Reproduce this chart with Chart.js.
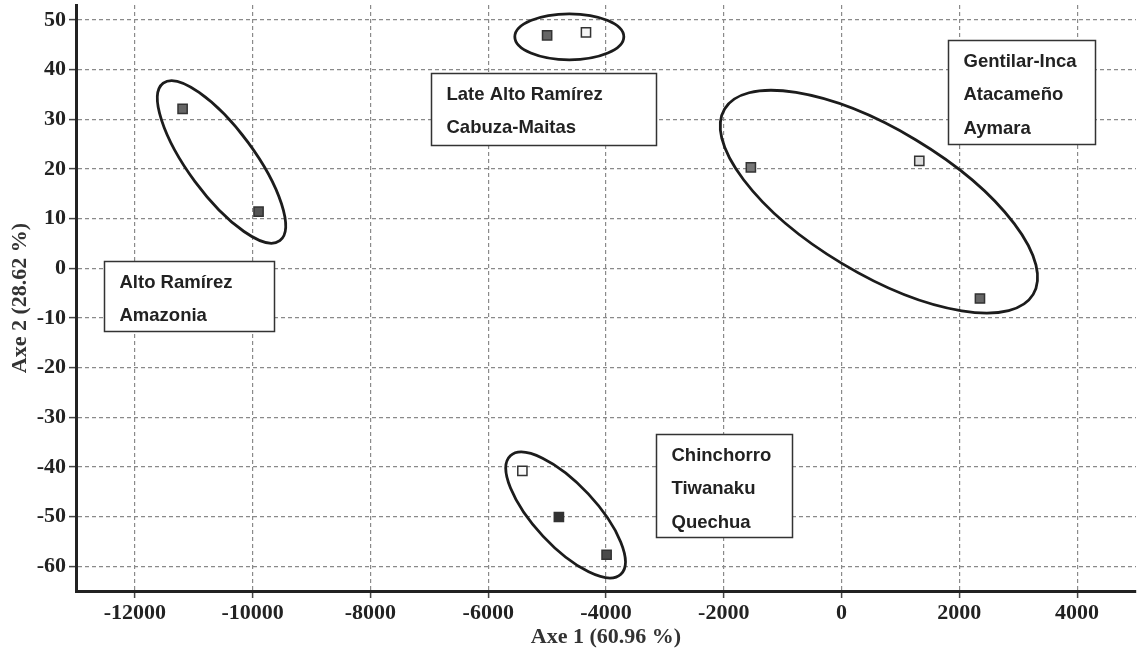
<!DOCTYPE html>
<html><head><meta charset="utf-8">
<script src="https://cdn.jsdelivr.net/npm/chart.js@4.4.0/dist/chart.umd.min.js"></script>
<style>html,body{margin:0;padding:0;background:#fff}#wrap{width:1137px;height:655px;position:relative}</style>
</head><body><div id="wrap"><canvas id="c" width="1137" height="655"></canvas></div>
<script>
// ---- data ----
const axis1 = [-11190, -9900, -5000, -4340, -1540, 1320, 2350, -5420, -4800, -3990];
const axis2 = [32.1, 11.4, 46.9, 47.5, 20.3, 21.6, -6.1, -40.8, -50.1, -57.7];
const xTickValues = [-12000, -10000, -8000, -6000, -4000, -2000, 0, 2000, 4000];
const yTickValues = [50, 40, 30, 20, 10, 0, -10, -20, -30, -40, -50, -60];
const xTitle = 'Axe 1 (60.96 %)';
const yTitle = 'Axe 2 (28.62 %)';
const groupA = ['Alto Ramírez', 'Amazonia'];
const groupB = ['Late Alto Ramírez', 'Cabuza-Maitas'];
const groupC = ['Gentilar-Inca', 'Atacameño', 'Aymara'];
const groupD = ['Chinchorro', 'Tiwanaku', 'Quechua'];

// ---- styles / annotation layout ----
const pointFills = ['#666', '#555', '#666', '#f6f6f6', '#777', '#ddd', '#666', '#fafafa', '#333', '#4a4a4a'];
const ellipseSpecs = [
  {cx: -10529, cy: 21.4, rx: 98, ry: 33, rot: 53.5},
  {cx: -4623, cy: 46.6, rx: 54.5, ry: 23, rot: 0},
  {cx: 634, cy: 13.4, rx: 180, ry: 72, rot: 31},
  {cx: -4686, cy: -49.7, rx: 81, ry: 31, rot: 47}
];
const boxSpecs = [
  {lines: groupA, x1: -12522, y1: 1.5, x2: -9637, y2: -12.6},
  {lines: groupB, x1: -6969, y1: 39.3, x2: -3144, y2: 24.9},
  {lines: groupC, x1: 1812, y1: 46.0, x2: 4305, y2: 25.0},
  {lines: groupD, x1: -3156, y1: -33.3, x2: -850, y2: -54.2}
];

const points = axis1.map((x, i) => ({x: x, y: axis2[i]}));
const serif = {family: "'Liberation Serif', 'Times New Roman', serif", size: 22, weight: 'bold'};

const annotations = {
  id: 'annotations',
  beforeDatasetsDraw(chart) {
    const ctx = chart.ctx, xs = chart.scales.x, ys = chart.scales.y;
    ctx.save();
    ctx.strokeStyle = '#1c1c1c';
    ctx.lineWidth = 2.8;
    ellipseSpecs.forEach(e => {
      ctx.beginPath();
      ctx.ellipse(xs.getPixelForValue(e.cx), ys.getPixelForValue(e.cy), e.rx, e.ry, e.rot * Math.PI / 180, 0, Math.PI * 2);
      ctx.stroke();
    });
    ctx.restore();
  },
  afterDatasetsDraw(chart) {
    const ctx = chart.ctx, xs = chart.scales.x, ys = chart.scales.y;
    ctx.save();
    boxSpecs.forEach(b => {
      const px1 = Math.round(xs.getPixelForValue(b.x1)) + 0.5, px2 = Math.round(xs.getPixelForValue(b.x2)) + 0.5;
      const py1 = Math.round(ys.getPixelForValue(b.y1)) + 0.5, py2 = Math.round(ys.getPixelForValue(b.y2)) + 0.5;
      ctx.fillStyle = '#fff';
      ctx.fillRect(px1, py1, px2 - px1, py2 - py1);
      ctx.strokeStyle = '#333';
      ctx.lineWidth = 1.5;
      ctx.strokeRect(px1, py1, px2 - px1, py2 - py1);
      ctx.fillStyle = '#222';
      ctx.font = "bold 18.5px 'Liberation Sans', Arial, sans-serif";
      ctx.textBaseline = 'middle';
      ctx.textAlign = 'left';
      b.lines.forEach((t, i) => ctx.fillText(t, px1 + 15, py1 + 21 + i * 33.5));
    });
    ctx.restore();
  }
};

new Chart(document.getElementById('c'), {
  type: 'scatter',
  data: {
    datasets: [{
      data: points,
      pointStyle: 'rect',
      pointRadius: 6.5,
      pointHoverRadius: 6.5,
      pointBackgroundColor: pointFills,
      pointBorderColor: '#333',
      pointBorderWidth: 1.5
    }]
  },
  options: {
    responsive: false,
    animation: false,
    events: [],
    layout: {autoPadding: false, padding: {left: 0, right: 1, top: 5, bottom: 0}},
    plugins: {legend: {display: false}, tooltip: {enabled: false}},
    scales: {
      x: {
        type: 'linear', min: -13000, max: 5000,
        afterBuildTicks: s => { s.ticks = xTickValues.map(v => ({value: v})); },
        afterFit: s => { s.height = 64; s.paddingLeft = 0; s.paddingRight = 0; },
        ticks: {font: serif, color: '#222', padding: 2, maxRotation: 0, autoSkip: false, callback: v => String(v)},
        grid: {color: '#8a8a8a', lineWidth: 1.2, tickLength: 7, tickColor: '#444', tickWidth: 1.5, tickBorderDash: []},
        border: {display: true, color: '#222', width: 3, dash: [4, 3]},
        title: {display: true, text: xTitle, font: serif, color: '#333', padding: {top: 0, bottom: 4}}
      },
      y: {
        type: 'linear', min: -65, max: 53,
        afterBuildTicks: s => { s.ticks = yTickValues.map(v => ({value: v})); },
        afterFit: s => { s.width = 76; s.paddingTop = 0; s.paddingBottom = 0; },
        ticks: {font: serif, color: '#222', padding: 3, autoSkip: false, callback: v => String(v)},
        grid: {color: '#8a8a8a', lineWidth: 1.2, tickLength: 7, tickColor: '#444', tickWidth: 1.5, tickBorderDash: []},
        border: {display: true, color: '#222', width: 3, dash: [4, 3]},
        title: {display: true, text: yTitle, font: serif, color: '#333', padding: {top: 7, bottom: 0}}
      }
    }
  },
  plugins: [annotations]
});
</script>
</body></html>
